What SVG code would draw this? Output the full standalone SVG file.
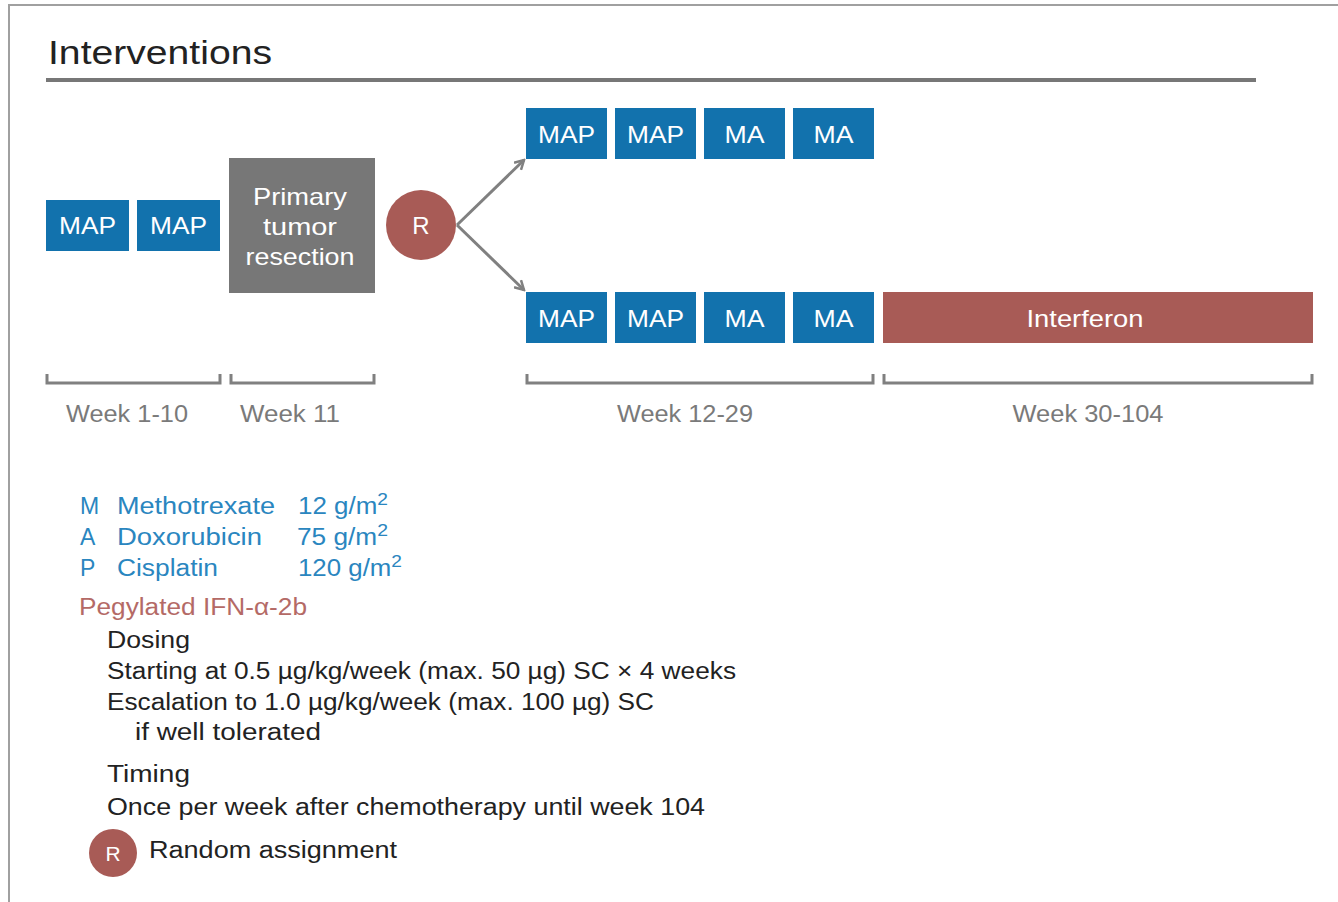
<svg xmlns="http://www.w3.org/2000/svg" width="1338" height="902" viewBox="0 0 1338 902">
<style>
.frame{fill:none;stroke:#a0a0a0;stroke-width:2}
.blue rect{fill:#1272ad}
.btxt{font-family:"Liberation Sans",Arial,sans-serif;font-size:24px;fill:#ffffff;text-anchor:middle}
.gray{fill:#777777}
.red{fill:#a85b56}
.br{fill:none;stroke:#808080;stroke-width:3}
.wk{font-family:"Liberation Sans",Arial,sans-serif;font-size:23px;fill:#7a7a7a;text-anchor:middle}
.leg{font-family:"Liberation Sans",Arial,sans-serif;font-size:23px;fill:#2a86bf}
.sup{font-size:17px}
.peg{font-family:"Liberation Sans",Arial,sans-serif;font-size:23px;fill:#b46a66}
.body{font-family:"Liberation Sans",Arial,sans-serif;font-size:23px;fill:#222222}
.conn{fill:none;stroke:#808080;stroke-width:3}
</style>
<defs>
<marker id="ah" viewBox="0 0 12 12" refX="10" refY="6" markerWidth="12" markerHeight="12" markerUnits="userSpaceOnUse" orient="auto">
<path d="M1,1 L10,6 L1,11" fill="none" stroke="#808080" stroke-width="2.5"/>
</marker>
</defs>
<rect width="1338" height="902" fill="#ffffff"/>
<path class="frame" d="M9,902 V5 H1338"/>
<text x="48" y="64" font-family="Liberation Sans,Arial,sans-serif" font-size="33" fill="#222222" textLength="224" lengthAdjust="spacingAndGlyphs">Interventions</text>
<line x1="46" y1="80" x2="1256" y2="80" stroke="#777777" stroke-width="4"/>

<g id="map1" class="blue"><rect x="46" y="200" width="83" height="51"/><text class="btxt" x="87.5" y="234" textLength="57" lengthAdjust="spacingAndGlyphs">MAP</text></g>
<g id="map2" class="blue"><rect x="137" y="200" width="83" height="51"/><text class="btxt" x="178.5" y="234" textLength="57" lengthAdjust="spacingAndGlyphs">MAP</text></g>
<g id="resection"><rect class="gray" x="229" y="158" width="146" height="135"/>
<text class="btxt" x="300" y="205" textLength="94" lengthAdjust="spacingAndGlyphs">Primary</text><text class="btxt" x="300" y="235" textLength="74" lengthAdjust="spacingAndGlyphs">tumor</text><text class="btxt" x="300" y="265" textLength="109" lengthAdjust="spacingAndGlyphs">resection</text></g>
<g id="rand"><circle class="red" cx="421" cy="225" r="35"/><text class="btxt" x="421" y="234">R</text></g>

<g id="top1" class="blue"><rect x="526" y="108" width="81" height="51"/><text class="btxt" x="566.5" y="143" textLength="57" lengthAdjust="spacingAndGlyphs">MAP</text></g>
<g id="top2" class="blue"><rect x="615" y="108" width="81" height="51"/><text class="btxt" x="655.5" y="143" textLength="57" lengthAdjust="spacingAndGlyphs">MAP</text></g>
<g id="top3" class="blue"><rect x="704" y="108" width="81" height="51"/><text class="btxt" x="744.5" y="143" textLength="40" lengthAdjust="spacingAndGlyphs">MA</text></g>
<g id="top4" class="blue"><rect x="793" y="108" width="81" height="51"/><text class="btxt" x="833.5" y="143" textLength="40" lengthAdjust="spacingAndGlyphs">MA</text></g>

<g id="bot1" class="blue"><rect x="526" y="292" width="81" height="51"/><text class="btxt" x="566.5" y="327" textLength="57" lengthAdjust="spacingAndGlyphs">MAP</text></g>
<g id="bot2" class="blue"><rect x="615" y="292" width="81" height="51"/><text class="btxt" x="655.5" y="327" textLength="57" lengthAdjust="spacingAndGlyphs">MAP</text></g>
<g id="bot3" class="blue"><rect x="704" y="292" width="81" height="51"/><text class="btxt" x="744.5" y="327" textLength="40" lengthAdjust="spacingAndGlyphs">MA</text></g>
<g id="bot4" class="blue"><rect x="793" y="292" width="81" height="51"/><text class="btxt" x="833.5" y="327" textLength="40" lengthAdjust="spacingAndGlyphs">MA</text></g>
<g id="interferon"><rect class="red" x="883" y="292" width="430" height="51"/><text class="btxt" x="1085" y="327" textLength="117" lengthAdjust="spacingAndGlyphs">Interferon</text></g>

<g id="connectors">
<line class="conn" x1="457" y1="225" x2="524" y2="160" marker-end="url(#ah)"/>
<line class="conn" x1="457" y1="225" x2="524" y2="290" marker-end="url(#ah)"/>
</g>

<g id="timeline">
<path class="br" d="M47,374 V383 H220 V374"/>
<path class="br" d="M231,374 V383 H374 V374"/>
<path class="br" d="M527,374 V383 H873 V374"/>
<path class="br" d="M884,374 V383 H1312 V374"/>
<text class="wk" x="127" y="422" textLength="122" lengthAdjust="spacingAndGlyphs">Week 1-10</text>
<text class="wk" x="290" y="422" textLength="100" lengthAdjust="spacingAndGlyphs">Week 11</text>
<text class="wk" x="685" y="422" textLength="136" lengthAdjust="spacingAndGlyphs">Week 12-29</text>
<text class="wk" x="1088" y="422" textLength="151" lengthAdjust="spacingAndGlyphs">Week 30-104</text>
</g>

<g id="legend">
<text class="leg" x="80" y="514">M</text><text class="leg" x="117" y="514" textLength="158" lengthAdjust="spacingAndGlyphs">Methotrexate</text><text class="leg" x="298" y="514" textLength="90" lengthAdjust="spacingAndGlyphs">12 g/m<tspan class="sup" dy="-9">2</tspan></text>
<text class="leg" x="80" y="545">A</text><text class="leg" x="117" y="545" textLength="145" lengthAdjust="spacingAndGlyphs">Doxorubicin</text><text class="leg" x="297" y="545" textLength="91" lengthAdjust="spacingAndGlyphs">75 g/m<tspan class="sup" dy="-9">2</tspan></text>
<text class="leg" x="80" y="576">P</text><text class="leg" x="117" y="576" textLength="101" lengthAdjust="spacingAndGlyphs">Cisplatin</text><text class="leg" x="298" y="576" textLength="104" lengthAdjust="spacingAndGlyphs">120 g/m<tspan class="sup" dy="-9">2</tspan></text>
<text class="peg" x="79" y="615" textLength="228" lengthAdjust="spacingAndGlyphs">Pegylated IFN-α-2b</text>
<text class="body" x="107" y="648" textLength="83" lengthAdjust="spacingAndGlyphs">Dosing</text>
<text class="body" x="107" y="679" textLength="629" lengthAdjust="spacingAndGlyphs">Starting at 0.5 µg/kg/week (max. 50 µg) SC × 4 weeks</text>
<text class="body" x="107" y="710" textLength="547" lengthAdjust="spacingAndGlyphs">Escalation to 1.0 µg/kg/week (max. 100 µg) SC</text>
<text class="body" x="135" y="740" textLength="186" lengthAdjust="spacingAndGlyphs">if well tolerated</text>
<text class="body" x="107" y="782" textLength="83" lengthAdjust="spacingAndGlyphs">Timing</text>
<text class="body" x="107" y="815" textLength="598" lengthAdjust="spacingAndGlyphs">Once per week after chemotherapy until week 104</text>
<circle class="red" cx="113" cy="853" r="24"/>
<text x="113" y="861" font-family="Liberation Sans,Arial,sans-serif" font-size="21" fill="#ffffff" text-anchor="middle">R</text>
<text class="body" x="149" y="858" textLength="248" lengthAdjust="spacingAndGlyphs">Random assignment</text>
</g>
</svg>
